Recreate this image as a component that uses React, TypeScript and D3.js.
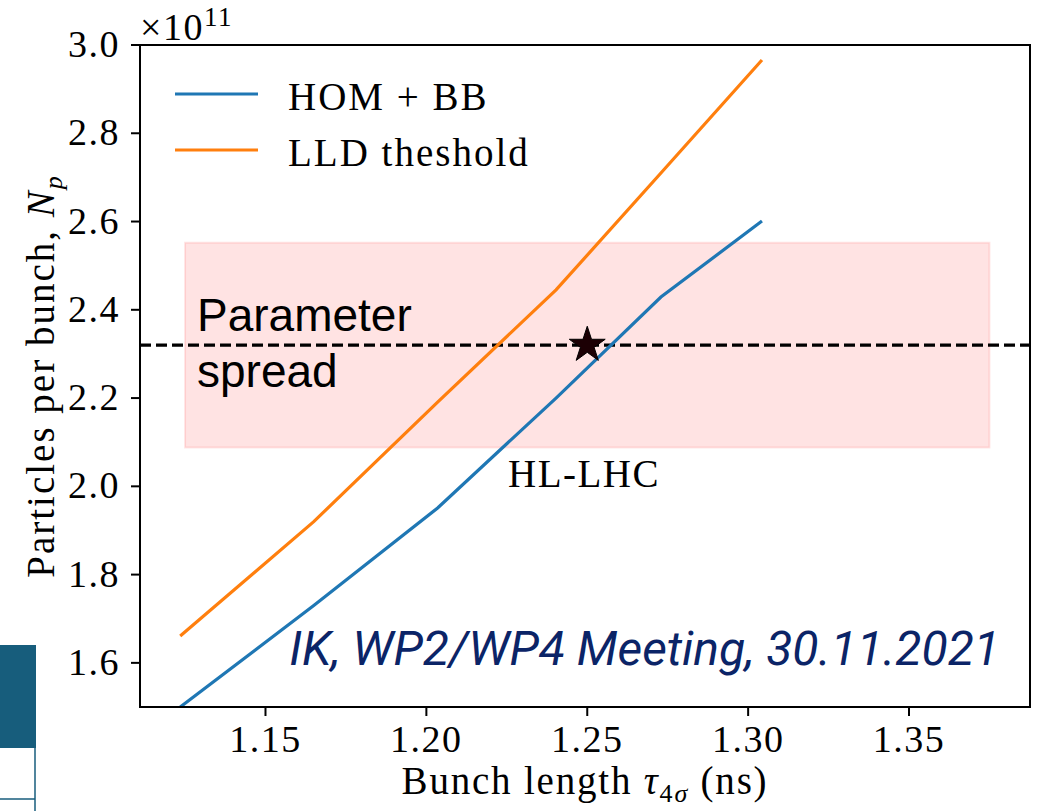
import React, { useEffect, useRef } from "react";
import * as d3 from "d3";

// bunch length (ns) and thresholds (x1e11 particles)
const bunchLength = [1.1235, 1.165, 1.2035, 1.2403, 1.2729, 1.3043];
const homBB = [1.5, 1.73, 1.951, 2.2, 2.429, 2.601];
const lldThreshold = [1.661, 1.92, 2.191, 2.445, 2.71, 2.966];
const seriesNames = ["HOM + BB", "LLD theshold"];

const xTicks = [1.15, 1.2, 1.25, 1.3, 1.35];
const yTicks = [1.6, 1.8, 2.0, 2.2, 2.4, 2.6, 2.8, 3.0];

const hlLhc = { x: 1.25, y: 2.32 };
const spread = { x0: 1.125, x1: 1.375, y0: 2.088, y1: 2.552 };

const serif = "'Liberation Serif', 'DejaVu Serif', serif";

export default function App() {
  const ref = useRef<SVGSVGElement>(null);

  useEffect(() => {
    const svg = d3.select(ref.current);
    svg.selectAll("*").remove();

    const width = 1038;
    const height = 811;
    const margin = { top: 45, left: 140, bottom: 104, right: 8 };
    const iwidth = width - margin.left - margin.right;
    const iheight = height - margin.top - margin.bottom;

    const x = d3.scaleLinear().domain([1.111, 1.3876]).range([0, iwidth]);
    const y = d3.scaleLinear().domain([1.5, 3.0]).range([iheight, 0]);

    // bits of the slide table peeking in at the left
    svg.append("rect").attr("x", 0).attr("y", 645).attr("width", 36).attr("height", 103).attr("fill", "#175d7c");
    svg.append("line").attr("x1", 35).attr("x2", 35).attr("y1", 748).attr("y2", 811).attr("stroke", "#175d7c").attr("stroke-width", 1.5);
    svg.append("line").attr("x1", 0).attr("x2", 35).attr("y1", 799).attr("y2", 799).attr("stroke", "#175d7c").attr("stroke-width", 1.5);

    const g = svg.append("g").attr("transform", `translate(${margin.left},${margin.top})`);

    g.append("clipPath").attr("id", "plot-clip")
      .append("rect").attr("width", iwidth).attr("height", iheight);

    const plot = g.append("g").attr("clip-path", "url(#plot-clip)");

    plot.append("rect")
      .attr("x", x(spread.x0))
      .attr("y", y(spread.y1))
      .attr("width", x(spread.x1) - x(spread.x0))
      .attr("height", y(spread.y0) - y(spread.y1))
      .attr("fill", "rgba(255,0,0,0.11)")
      .attr("stroke", "rgba(255,0,0,0.1)")
      .attr("stroke-width", 2);

    plot.append("line")
      .attr("x1", 0).attr("x2", iwidth)
      .attr("y1", y(hlLhc.y)).attr("y2", y(hlLhc.y))
      .attr("stroke", "black")
      .attr("stroke-width", 3.2)
      .attr("stroke-dasharray", "11,5");

    const line = d3.line<number>()
      .x((d, i) => x(bunchLength[i]))
      .y(d => y(d));

    const colors = ["#1f77b4", "#ff7f0e"];
    [homBB, lldThreshold].forEach((s, i) => {
      plot.append("path")
        .datum(s)
        .attr("d", line)
        .attr("fill", "none")
        .attr("stroke", colors[i])
        .attr("stroke-width", 3.2);
    });

    plot.append("path")
      .attr("d", d3.symbol(d3.symbolStar, 400)())
      .attr("transform", `translate(${x(hlLhc.x)},${y(hlLhc.y)})`)
      .attr("fill", "#1c0004")
      .attr("stroke", "black")
      .attr("stroke-width", 1);

    // frame
    g.append("rect")
      .attr("width", iwidth).attr("height", iheight)
      .attr("fill", "none").attr("stroke", "black").attr("stroke-width", 2);

    // ticks
    xTicks.forEach(t => {
      g.append("line").attr("x1", x(t)).attr("x2", x(t)).attr("y1", iheight).attr("y2", iheight + 9)
        .attr("stroke", "black").attr("stroke-width", 2);
      g.append("text").attr("x", x(t)).attr("y", iheight + 45)
        .attr("text-anchor", "middle").attr("font-family", serif).attr("font-size", 38)
        .attr("letter-spacing", 1.5)
        .text(t.toFixed(2));
    });
    yTicks.forEach(t => {
      g.append("line").attr("x1", -9).attr("x2", 0).attr("y1", y(t)).attr("y2", y(t))
        .attr("stroke", "black").attr("stroke-width", 2);
      g.append("text").attr("x", -20).attr("y", y(t) + 12)
        .attr("text-anchor", "end").attr("font-family", serif).attr("font-size", 38)
        .attr("letter-spacing", 1.5)
        .text(t.toFixed(1));
    });

    // offset text
    const off = g.append("text").attr("x", 0).attr("y", -5).attr("font-family", serif).attr("font-size", 38)
      .attr("letter-spacing", 1.5);
    off.append("tspan").text("×10");
    off.append("tspan").attr("font-size", 27).attr("dy", -14).text("11");

    // axis labels
    const xl = svg.append("text").attr("x", margin.left + iwidth / 2).attr("y", 794)
      .attr("text-anchor", "middle").attr("font-family", serif).attr("font-size", 39)
      .attr("letter-spacing", 1.8);
    xl.append("tspan").text("Bunch length ");
    xl.append("tspan").attr("font-style", "italic").text("τ");
    xl.append("tspan").attr("font-size", 26).attr("dy", 8).text("4");
    xl.append("tspan").attr("font-size", 26).attr("font-style", "italic").text("σ");
    xl.append("tspan").attr("dy", -8).text(" (ns)");

    const yl = svg.append("text")
      .attr("transform", `translate(54,${margin.top + iheight / 2}) rotate(-90)`)
      .attr("text-anchor", "middle").attr("font-family", serif).attr("font-size", 39)
      .attr("letter-spacing", 2);
    yl.append("tspan").text("Particles per bunch, ");
    yl.append("tspan").attr("font-style", "italic").text("N");
    yl.append("tspan").attr("font-style", "italic").attr("font-size", 26).attr("dy", 8).text("p");

    // legend
    seriesNames.forEach((n, i) => {
      const ly = 49 + i * 56;
      g.append("line").attr("x1", 35).attr("x2", 118).attr("y1", ly).attr("y2", ly)
        .attr("stroke", colors[i]).attr("stroke-width", 3.2);
      g.append("text").attr("x", 148).attr("y", ly + 16)
        .attr("font-family", serif).attr("font-size", 39).attr("letter-spacing", 2).text(n);
    });

    // annotations
    g.append("text").attr("x", 368).attr("y", 442)
      .attr("font-family", serif).attr("font-size", 39).attr("letter-spacing", 1.5)
      .text("HL-LHC");

    const sp = g.append("text").attr("font-family", "'Liberation Sans', Arial, sans-serif").attr("font-size", 46);
    sp.append("tspan").attr("x", 57).attr("y", 286).text("Parameter");
    sp.append("tspan").attr("x", 57).attr("y", 342).text("spread");

    g.append("text").attr("x", iwidth - 30).attr("y", 620)
      .attr("text-anchor", "end").attr("font-family", "Roboto, sans-serif")
      .attr("font-style", "italic").attr("font-size", 48).attr("fill", "#0b2467")
      .text("IK, WP2/WP4 Meeting, 30.11.2021");
  }, []);

  return (
    <svg ref={ref} width={1038} height={811}
      style={{ position: "absolute", left: 0, top: 0, background: "white" }} />
  );
}
